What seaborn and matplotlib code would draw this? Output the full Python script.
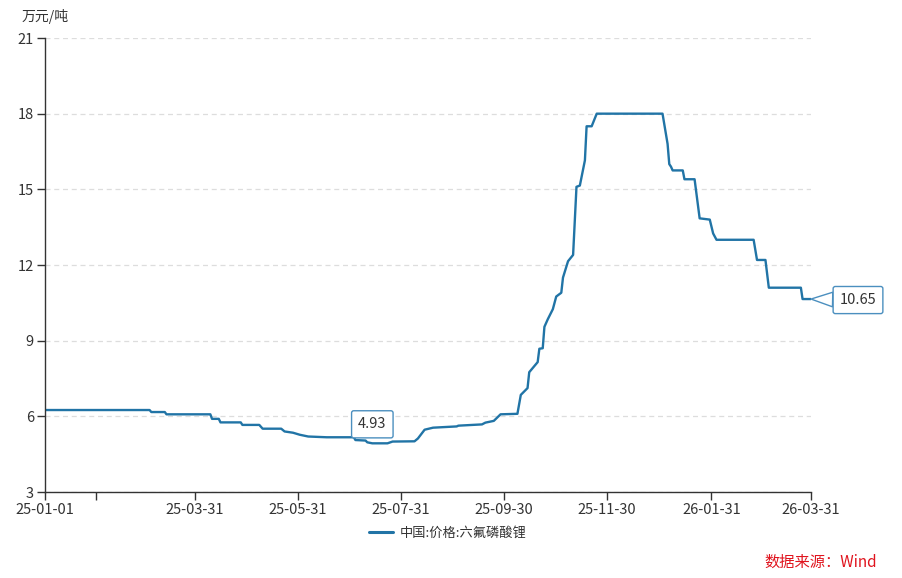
import matplotlib
matplotlib.use("Agg")
import matplotlib.pyplot as plt
import matplotlib.dates as mdates
import seaborn as sns
import pandas as pd

# ---- data ----
dates = [
    "2025-01-01", "2025-03-04", "2025-03-05", "2025-03-13", "2025-03-14", "2025-04-09",
    "2025-04-10", "2025-04-14", "2025-04-15", "2025-04-27", "2025-04-28", "2025-05-08",
    "2025-05-10", "2025-05-21", "2025-05-23", "2025-05-28", "2025-06-01", "2025-06-06",
    "2025-06-17", "2025-07-03", "2025-07-04", "2025-07-10", "2025-07-11", "2025-07-14",
    "2025-07-23", "2025-07-26", "2025-08-08", "2025-08-10", "2025-08-14", "2025-08-19",
    "2025-09-02", "2025-09-03", "2025-09-17", "2025-09-19", "2025-09-24", "2025-09-28",
    "2025-10-08", "2025-10-10", "2025-10-14", "2025-10-15", "2025-10-20", "2025-10-21",
    "2025-10-23", "2025-10-24", "2025-10-26", "2025-10-29", "2025-10-31", "2025-11-03",
    "2025-11-04", "2025-11-07", "2025-11-10", "2025-11-12", "2025-11-14", "2025-11-17",
    "2025-11-18", "2025-11-21", "2025-11-24", "2026-01-02", "2026-01-05", "2026-01-06",
    "2026-01-07", "2026-01-08", "2026-01-14", "2026-01-15", "2026-01-21", "2026-01-24",
    "2026-01-30", "2026-02-01", "2026-02-03", "2026-02-25", "2026-02-27", "2026-03-04",
    "2026-03-06", "2026-03-25", "2026-03-26", "2026-03-31",
]
prices = [
    6.25, 6.25, 6.17, 6.17, 6.08, 6.08,
    5.90, 5.90, 5.76, 5.76, 5.66, 5.66,
    5.51, 5.51, 5.40, 5.35, 5.27, 5.20,
    5.17, 5.17, 5.06, 5.04, 4.97, 4.93,
    4.93, 5.00, 5.01, 5.12, 5.47, 5.55,
    5.60, 5.63, 5.68, 5.75, 5.82, 6.08,
    6.10, 6.85, 7.12, 7.75, 8.15, 8.68,
    8.70, 9.55, 9.85, 10.25, 10.75, 10.90,
    11.50, 12.15, 12.40, 15.10, 15.15, 16.15,
    17.50, 17.50, 18.00, 18.00, 16.80, 16.00,
    15.90, 15.75, 15.75, 15.40, 15.40, 13.85,
    13.80, 13.25, 13.00, 13.00, 12.20, 12.20,
    11.10, 11.10, 10.65, 10.65,
]
series_name = "中国:价格:六氟磷酸锂"
unit_label = "万元/吨"
source_text = "数据来源：Wind"
y_ticks = [3, 6, 9, 12, 15, 18, 21]
x_tick_dates = ["2025-01-01", "2025-01-31", "2025-03-31", "2025-05-31", "2025-07-31",
                "2025-09-30", "2025-11-30", "2026-01-31", "2026-03-31"]
x_tick_labels = ["25-01-01", "", "25-03-31", "25-05-31", "25-07-31",
                 "25-09-30", "25-11-30", "26-01-31", "26-03-31"]
min_date, min_value = "2025-07-14", 4.93
last_date, last_value = "2026-03-31", 10.65

df = pd.DataFrame({"date": pd.to_datetime(dates), "value": prices, "series": series_name})

sns.set_theme(style="white")
plt.rcParams["font.family"] = ["Noto Sans CJK SC", "DejaVu Sans"]
plt.rcParams["axes.unicode_minus"] = False

line_color = "#2174a6"
box_color = "#4b8fbf"
text_color = "#333333"

fig = plt.figure(figsize=(9.03, 5.78), dpi=100)
ax = fig.add_axes([45 / 903, 1 - 492 / 578, (811 - 45) / 903, (492 - 38) / 578])

sns.lineplot(data=df, x="date", y="value", hue="series", palette=[line_color],
             linewidth=1.7, ax=ax, legend=False)

ax.set_xlim(pd.Timestamp("2025-01-01"), pd.Timestamp("2026-03-31"))
ax.set_ylim(3, 21)
ax.set_yticks(y_ticks)
ax.set_yticklabels([str(v) for v in y_ticks])
ax.set_xticks(pd.to_datetime(x_tick_dates))
ax.set_xticklabels(x_tick_labels)
ax.set_xlabel("")
ax.set_ylabel("")

ax.grid(axis="y", color="#dddddd", linestyle=(0, (4, 3)), linewidth=0.9)
ax.grid(axis="x", visible=False)
ax.set_axisbelow(True)
for s in ["top", "right"]:
    ax.spines[s].set_visible(False)
for s in ["left", "bottom"]:
    ax.spines[s].set_color("#333333")
    ax.spines[s].set_linewidth(1.0)
ax.tick_params(axis="both", direction="out", length=6, width=1.0, color="#333333",
               labelsize=10.5, labelcolor=text_color, pad=2, left=True, bottom=True)

fig.text(22 / 903, 1 - 17 / 578, unit_label, fontsize=10, color=text_color,
         ha="left", va="center")

# annotations
bbox_style = dict(boxstyle="round,pad=0.45,rounding_size=0.15", fc="white",
                  ec=box_color, lw=1.0)
ax.annotate(f"{min_value:.2f}", xy=(pd.Timestamp(min_date), min_value),
            xytext=(0, 19), textcoords="offset pixels", ha="center", va="center",
            fontsize=10.5, color=text_color, bbox=bbox_style, zorder=5)
ax.annotate(f"{last_value:.2f}", xy=(pd.Timestamp(last_date), last_value),
            xytext=(47, -1), textcoords="offset pixels", ha="center", va="center",
            fontsize=10.5, color=text_color, bbox=bbox_style, annotation_clip=False,
            arrowprops=dict(arrowstyle="wedge,tail_width=1.0,shrink_factor=0.5",
                            fc="white", ec=box_color, lw=1.0, shrinkA=0, shrinkB=0),
            zorder=5)

# legend
handle = plt.Line2D([], [], color=line_color, linewidth=2.2)
fig.legend([handle], [series_name], loc="center", bbox_to_anchor=(448 / 903, 1 - 533 / 578),
           frameon=False, fontsize=9.5, handlelength=1.8, handletextpad=0.5,
           labelcolor=text_color)

fig.text(877 / 903, 1 - 562 / 578, source_text, fontsize=11, color="#e0141e",
         ha="right", va="center")

fig.savefig("out.png", dpi=100)
